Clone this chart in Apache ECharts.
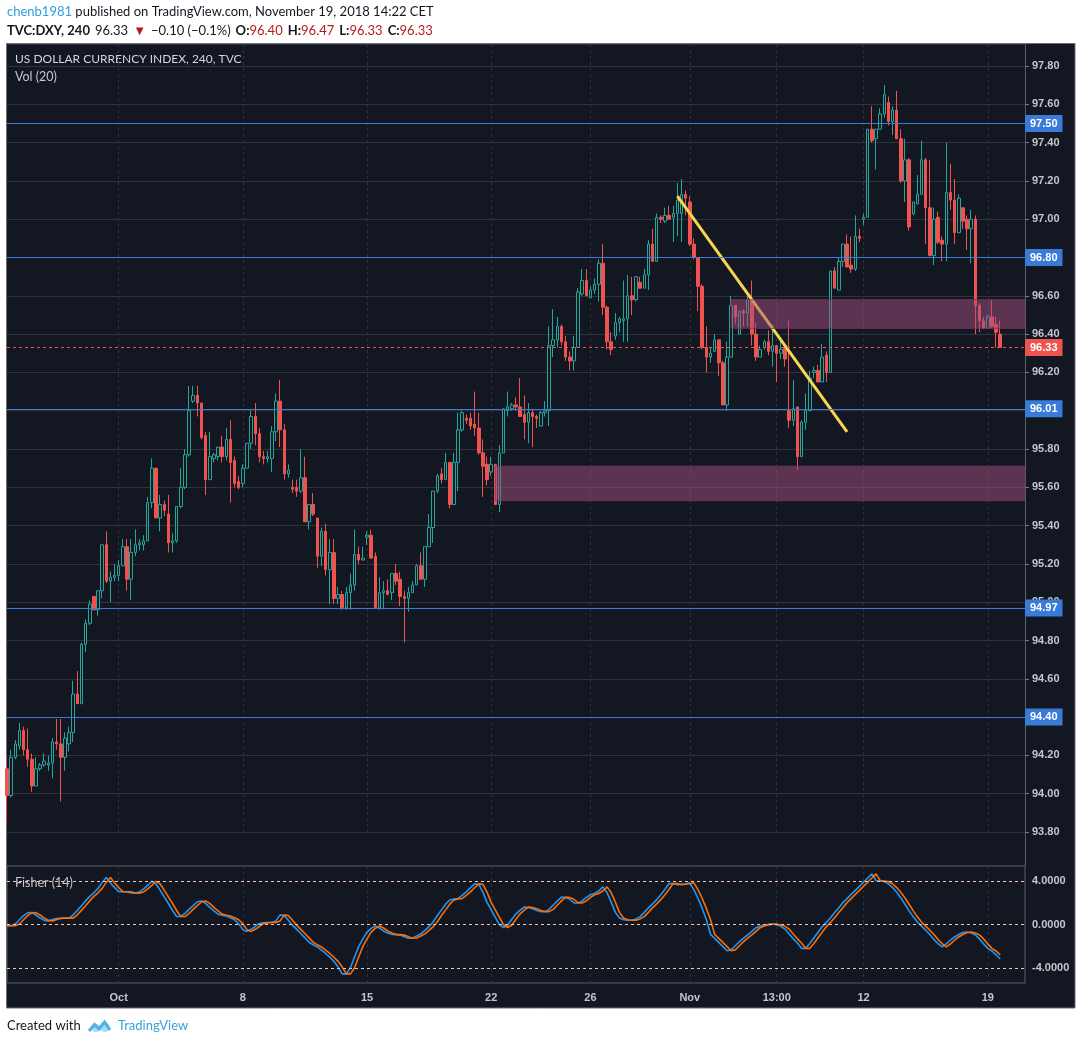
<!DOCTYPE html>
<html><head><meta charset="utf-8">
<script src="https://cdn.jsdelivr.net/npm/echarts@6/dist/echarts.min.js"></script>
<style>html,body{margin:0;padding:0;background:#fff}#c{width:1081px;height:1045px}</style>
</head><body><div id="c"></div>
<script>
// ---- data (4h candles, TVC:DXY) ----
const opens = [
94.13,93.99,94.19,94.25,94.33,94.23,94.18,94.04,94.13,94.15,
94.15,94.16,94.27,94.26,94.19,94.26,94.32,94.52,94.47,94.78,
94.89,95.03,94.96,95.06,95.30,95.11,95.13,95.14,95.19,95.29,
95.12,95.26,95.30,95.30,95.32,95.52,95.70,95.44,95.51,95.46,
95.31,95.32,95.50,95.60,95.77,96.05,96.08,96.04,95.87,95.64,
95.75,95.76,95.81,95.76,95.85,95.74,95.63,95.62,95.70,95.83,
95.97,95.88,95.76,95.75,95.75,95.89,96.05,95.90,95.67,95.60,
95.60,95.58,95.65,95.42,95.51,95.44,95.24,95.37,95.17,95.26,
95.02,95.04,94.97,95.05,95.09,95.25,95.22,95.34,95.35,95.24,
94.97,95.05,95.06,95.05,95.15,95.12,95.03,95.02,95.05,95.09,
95.19,95.12,95.29,95.39,95.58,95.67,95.64,95.73,95.51,95.73,
95.90,95.96,95.96,95.93,95.91,95.78,95.72,95.68,95.72,95.51,
95.78,96.00,96.01,96.03,96.02,95.98,95.94,95.99,95.97,95.92,
95.99,96.00,96.34,96.37,96.44,96.36,96.28,96.26,96.33,96.61,
96.68,96.59,96.63,96.66,96.77,96.54,96.36,96.39,96.46,96.47,
96.48,96.60,96.58,96.67,96.64,96.71,96.87,96.78,97.01,96.99,
97.02,97.01,97.03,97.03,97.13,97.09,96.87,96.80,96.65,96.33,
96.28,96.31,96.37,96.25,96.03,96.28,96.55,96.40,96.52,96.51,
96.58,96.40,96.28,96.33,96.36,96.31,96.34,96.30,96.33,96.00,
95.95,96.02,95.76,95.94,96.00,96.20,96.21,96.15,96.29,96.20,
96.73,96.63,96.78,96.87,96.76,96.74,96.91,97.00,97.01,97.47,
97.42,97.47,97.55,97.61,97.51,97.57,97.42,97.20,97.31,97.03,
97.08,97.13,97.31,97.06,96.81,97.01,96.89,96.87,97.14,97.10,
96.93,97.06,97.00,96.95,97.00,96.55,96.47,96.43,96.49,96.45,
96.40];
const highs = [
94.20,94.23,94.28,94.37,94.35,94.34,94.21,94.19,94.16,94.21,
94.20,94.29,94.39,94.39,94.32,94.35,94.59,94.64,94.79,94.91,
95.01,95.03,95.06,95.30,95.37,95.16,95.20,95.22,95.33,95.33,
95.33,95.38,95.33,95.35,95.55,95.75,95.70,95.56,95.53,95.56,
95.36,95.50,95.70,95.80,96.13,96.13,96.13,96.04,95.89,95.89,
95.78,95.81,95.87,95.91,95.95,95.76,95.66,95.72,95.83,96.00,
96.04,95.91,95.79,95.79,95.92,96.09,96.16,95.93,95.72,95.64,
95.64,95.80,95.76,95.51,95.57,95.44,95.39,95.41,95.33,95.33,
95.08,95.06,95.08,95.15,95.38,95.29,95.29,95.37,95.38,95.26,
95.13,95.11,95.12,95.15,95.20,95.16,95.06,95.08,95.11,95.20,
95.26,95.29,95.46,95.58,95.67,95.70,95.78,95.73,95.78,95.99,
96.00,95.98,95.99,96.10,95.99,95.85,95.76,95.76,95.72,95.82,
96.01,96.10,96.04,96.07,96.17,96.08,96.04,96.01,95.98,96.00,
96.05,96.44,96.53,96.49,96.45,96.39,96.31,96.39,96.64,96.74,
96.74,96.65,96.69,96.79,96.87,96.55,96.41,96.51,96.49,96.68,
96.71,96.70,96.70,96.70,96.74,96.89,96.95,97.03,97.02,97.06,
97.07,97.07,97.19,97.21,97.15,97.12,96.90,96.80,96.66,96.44,
96.33,96.40,96.37,96.26,96.36,96.60,96.55,96.52,96.53,96.60,
96.68,96.46,96.34,96.37,96.42,96.45,96.34,96.37,96.34,96.47,
96.16,96.02,95.95,96.09,96.21,96.23,96.24,96.35,96.31,96.73,
96.75,96.80,96.87,96.92,96.91,97.02,96.95,97.03,97.47,97.59,
97.47,97.58,97.70,97.64,97.59,97.67,97.47,97.42,97.32,97.09,
97.23,97.41,97.32,97.31,97.06,97.04,96.91,97.40,97.29,97.21,
97.13,97.06,97.02,97.05,97.02,96.56,96.49,96.50,96.58,96.49,
96.47];
const lows = [
93.85,93.98,94.18,94.23,94.20,94.14,94.01,94.04,94.12,94.14,
94.12,94.08,94.23,93.96,94.12,94.22,94.27,94.47,94.47,94.74,
94.88,94.96,94.93,95.02,95.10,95.00,95.11,95.11,95.19,95.06,
95.01,95.24,95.27,95.27,95.32,95.49,95.44,95.37,95.45,95.26,
95.26,95.31,95.49,95.59,95.76,96.04,95.97,95.85,95.56,95.64,
95.73,95.74,95.73,95.74,95.52,95.60,95.59,95.60,95.70,95.80,
95.82,95.73,95.72,95.73,95.68,95.84,95.81,95.64,95.65,95.57,
95.55,95.57,95.42,95.38,95.45,95.18,95.19,95.14,94.99,94.99,
94.99,94.96,94.96,94.96,95.06,95.20,95.22,95.30,95.23,94.97,
94.96,94.97,95.04,95.01,95.09,94.98,94.79,94.95,95.05,95.09,
95.12,95.08,95.29,95.31,95.57,95.62,95.64,95.49,95.51,95.58,
95.89,95.93,95.90,95.87,95.77,95.55,95.61,95.66,95.51,95.47,
95.78,95.97,96.00,96.00,95.97,95.85,95.83,95.81,95.91,95.92,
95.97,95.92,96.28,96.33,96.34,96.26,96.21,96.21,96.33,96.60,
96.60,96.59,96.61,96.57,96.50,96.32,96.29,96.37,96.41,96.36,
96.36,96.50,96.57,96.64,96.64,96.63,96.78,96.78,96.98,96.98,
97.00,96.88,96.91,96.88,97.02,96.86,96.79,96.52,96.32,96.20,
96.25,96.31,96.18,96.03,96.00,96.28,96.45,96.40,96.44,96.44,
96.34,96.26,96.28,96.32,96.29,96.23,96.15,96.27,96.23,95.91,
95.92,95.69,95.76,95.90,96.00,96.17,96.15,96.15,96.15,96.20,
96.64,96.63,96.75,96.75,96.72,96.73,96.88,96.97,97.01,97.40,
97.26,97.47,97.53,97.49,97.44,97.42,97.19,97.09,96.94,97.02,
97.08,97.13,96.87,96.81,96.76,96.87,96.78,96.78,97.05,96.87,
96.93,96.95,96.84,96.77,96.40,96.41,96.43,96.43,96.43,96.33,
96.33];
const closes = [
93.99,94.19,94.26,94.33,94.23,94.18,94.04,94.13,94.15,94.17,
94.16,94.27,94.26,94.19,94.29,94.32,94.52,94.47,94.78,94.89,
94.99,94.96,95.06,95.30,95.11,95.13,95.14,95.19,95.29,95.12,
95.26,95.30,95.31,95.32,95.52,95.70,95.44,95.51,95.48,95.31,
95.32,95.50,95.60,95.77,96.00,96.08,96.04,95.86,95.64,95.76,
95.77,95.81,95.76,95.85,95.73,95.62,95.60,95.70,95.83,95.97,
95.88,95.76,95.75,95.76,95.89,96.05,95.90,95.67,95.69,95.59,
95.58,95.65,95.42,95.51,95.46,95.24,95.37,95.17,95.26,95.02,
95.04,94.97,95.05,95.09,95.25,95.22,95.23,95.35,95.23,94.97,
95.05,95.06,95.04,95.15,95.11,95.03,95.02,95.05,95.09,95.19,
95.12,95.29,95.39,95.58,95.66,95.64,95.73,95.51,95.73,95.90,
95.99,95.95,95.92,95.91,95.78,95.71,95.64,95.72,95.51,95.78,
96.01,96.02,96.03,96.02,95.97,95.94,95.99,95.97,95.96,95.99,
96.00,96.34,96.37,96.44,96.36,96.28,96.26,96.33,96.62,96.68,
96.60,96.63,96.66,96.77,96.54,96.36,96.32,96.46,96.48,96.48,
96.60,96.58,96.70,96.64,96.71,96.87,96.78,97.01,97.00,97.02,
97.00,97.03,97.10,97.13,97.11,96.87,96.80,96.65,96.33,96.28,
96.30,96.37,96.25,96.03,96.28,96.55,96.49,96.52,96.51,96.58,
96.40,96.28,96.32,96.36,96.31,96.34,96.30,96.32,96.27,95.95,
96.01,95.76,95.94,96.00,96.17,96.21,96.15,96.28,96.20,96.73,
96.64,96.78,96.87,96.75,96.74,96.91,96.90,97.01,97.47,97.41,
97.47,97.55,97.65,97.51,97.57,97.42,97.20,97.31,96.96,97.09,
97.13,97.31,97.06,96.81,97.00,96.88,96.87,97.14,97.10,96.93,
97.11,96.99,96.95,97.00,96.55,96.47,96.43,96.49,96.44,96.41,
96.33];
const fisher = [
-0.12,-0.12,0.05,0.43,0.81,1.07,1.09,0.87,0.59,0.38,
0.33,0.46,0.55,0.58,0.58,0.58,0.89,1.29,1.71,2.16,
2.57,2.90,3.30,3.85,4.29,3.80,3.37,3.00,3.00,2.99,
2.88,2.87,2.98,3.25,3.57,3.95,3.71,3.14,2.52,1.92,
1.28,0.73,0.73,1.02,1.38,1.73,2.08,2.15,1.93,1.56,
1.25,0.95,0.85,0.77,0.62,0.43,0.06,-0.47,-0.63,-0.44,
-0.18,0.09,0.15,0.18,0.18,0.33,0.88,0.81,0.38,-0.06,
-0.44,-0.82,-1.22,-1.62,-1.86,-2.05,-2.34,-2.65,-2.99,-3.37,
-3.88,-4.52,-4.52,-3.96,-2.95,-2.00,-1.32,-0.69,-0.35,-0.14,
-0.32,-0.59,-0.78,-0.90,-0.93,-0.97,-1.11,-1.26,-1.24,-1.05,
-0.85,-0.54,-0.20,0.25,0.82,1.34,1.86,2.24,2.34,2.38,
2.66,2.99,3.36,3.72,3.67,2.96,2.02,1.34,0.66,-0.03,
-0.27,-0.05,0.48,0.98,1.32,1.60,1.56,1.45,1.28,1.18,
1.18,1.38,1.78,2.16,2.50,2.46,2.31,1.97,1.97,2.16,
2.48,2.72,2.84,3.06,3.44,2.92,2.05,1.11,0.60,0.44,
0.39,0.39,0.51,0.72,1.11,1.52,1.89,2.27,2.73,3.22,
3.75,3.74,3.63,3.68,3.73,3.81,3.17,2.38,1.47,0.45,
-0.89,-1.27,-1.64,-2.02,-2.40,-2.32,-1.94,-1.57,-1.25,-0.95,
-0.62,-0.29,-0.14,-0.04,0.03,0.03,-0.02,-0.17,-0.42,-0.87,
-1.31,-1.69,-2.18,-2.18,-1.74,-1.21,-0.70,-0.19,0.19,0.62,
1.09,1.54,2.00,2.37,2.75,3.12,3.50,3.88,4.25,4.63,
4.02,3.97,3.93,3.73,3.38,2.95,2.42,1.85,1.25,0.70,
0.23,-0.15,-0.52,-0.91,-1.38,-1.76,-2.04,-1.78,-1.42,-1.14,
-0.92,-0.73,-0.68,-0.77,-0.95,-1.32,-1.77,-2.18,-2.42,-2.77,
-3.15];
const trigger = [
-0.12,-0.12,-0.12,0.05,0.43,0.81,1.07,1.09,0.87,0.59,
0.38,0.33,0.46,0.55,0.58,0.58,0.58,0.89,1.29,1.71,
2.16,2.57,2.90,3.30,3.85,4.29,3.80,3.37,3.00,3.00,
2.99,2.88,2.87,2.98,3.25,3.57,3.95,3.71,3.14,2.52,
1.92,1.28,0.73,0.73,1.02,1.38,1.73,2.08,2.15,1.93,
1.56,1.25,0.95,0.85,0.77,0.62,0.43,0.06,-0.47,-0.63,
-0.44,-0.18,0.09,0.15,0.18,0.18,0.33,0.88,0.81,0.38,
-0.06,-0.44,-0.82,-1.22,-1.62,-1.86,-2.05,-2.34,-2.65,-2.99,
-3.37,-3.88,-4.52,-4.52,-3.96,-2.95,-2.00,-1.32,-0.69,-0.35,
-0.14,-0.32,-0.59,-0.78,-0.90,-0.93,-0.97,-1.11,-1.26,-1.24,
-1.05,-0.85,-0.54,-0.20,0.25,0.82,1.34,1.86,2.24,2.34,
2.38,2.66,2.99,3.36,3.72,3.67,2.96,2.02,1.34,0.66,
-0.03,-0.27,-0.05,0.48,0.98,1.32,1.60,1.56,1.45,1.28,
1.18,1.18,1.38,1.78,2.16,2.50,2.46,2.31,1.97,1.97,
2.16,2.48,2.72,2.84,3.06,3.44,2.92,2.05,1.11,0.60,
0.44,0.39,0.39,0.51,0.72,1.11,1.52,1.89,2.27,2.73,
3.22,3.75,3.74,3.63,3.68,3.73,3.81,3.17,2.38,1.47,
0.45,-0.89,-1.27,-1.64,-2.02,-2.40,-2.32,-1.94,-1.57,-1.25,
-0.95,-0.62,-0.29,-0.14,-0.04,0.03,0.03,-0.02,-0.17,-0.42,
-0.87,-1.31,-1.69,-2.18,-2.18,-1.74,-1.21,-0.70,-0.19,0.19,
0.62,1.09,1.54,2.00,2.37,2.75,3.12,3.50,3.88,4.25,
4.63,4.02,3.97,3.93,3.73,3.38,2.95,2.42,1.85,1.25,
0.70,0.23,-0.15,-0.52,-0.91,-1.38,-1.76,-2.04,-1.78,-1.42,
-1.14,-0.92,-0.73,-0.68,-0.77,-0.95,-1.32,-1.77,-2.18,-2.42,
-2.77];
const slotCount = 247;                       // candles + empty right margin
const labelIdx  = [27, 57, 87, 117, 141, 165, 186, 207, 237];
const labelText = ['Oct', '8', '15', '22', '26', 'Nov', '13:00', '12', '19'];
const levels = [97.50, 96.80, 96.01, 94.97, 94.40];
const lastPrice = 96.33;
const countdown = '02:37:21';
const zoneStart = [175, 118];
const zoneTop = [96.58, 95.71];
const zoneBottom = [96.43, 95.53];
const trendIdx = [162, 203];
const trendVal = [97.12, 95.89];
const fisherLevels = [4, 0, -4];
const headerLine1 = ['chenb1981', ' published on TradingView.com, November 19, 2018 14:22 CET'];
const paneTitles = ['US DOLLAR CURRENCY INDEX, 240, TVC', 'Vol (20)', 'Fisher (14)'];

// ---- build ----
const cats = Array.from({length: slotCount}, (_, i) => String(i));
const candleData = opens.map((o, i) => [o, closes[i], lows[i], highs[i]]);
const isLabel = (i) => labelIdx.indexOf(i) >= 0;
const F = 'Lato,"Liberation Sans",Arial,sans-serif';
const AF = '"Liberation Sans",Arial,sans-serif';
const BG = '#131722', GRIDC = '#2f333e', BLUE = '#3a7bd8', RED = '#ef5350', AXT = '#c3c6cd';
const last = opens.length - 1;

const splitV = {show: true, interval: (i) => isLabel(i), lineStyle: {color: '#2c303b', type: [3, 3], width: 1}};

const chart = echarts.init(document.getElementById('c'), null, {renderer: 'canvas'});
chart.setOption({
  animation: false,
  backgroundColor: '#ffffff',
  title: [
    {left: 7, top: 5, padding: 0, text: '{u|' + headerLine1[0] + '}{n|' + headerLine1[1] + '}',
     textStyle: {fontWeight: 'normal', rich: {
       u: {color: '#2e9fdc', fontSize: 13, fontWeight: 'normal', fontFamily: F},
       n: {color: '#131722', fontSize: 13, fontWeight: 'normal', fontFamily: F}}}},
    {left: 7, top: 22, padding: 0,
     text: '{b|TVC:DXY, 240} {n|' + closes[last].toFixed(2) + '} {r|\u25BC} {n|\u22120.10 (\u22120.1%)} {b|O:}{r|' + opens[last].toFixed(2) +
           '} {b|H:}{r|' + highs[last].toFixed(2) + '} {b|L:}{r|' + lows[last].toFixed(2) + '} {b|C:}{r|' + closes[last].toFixed(2) + '}',
     textStyle: {fontWeight: 'normal', rich: {
       b: {color: '#131722', fontSize: 13, fontWeight: 'bold', fontFamily: F},
       n: {color: '#131722', fontSize: 13, fontWeight: 'normal', fontFamily: F},
       r: {color: '#b71c1c', fontSize: 13, fontWeight: 'normal', fontFamily: F}}}}
  ],
  graphic: [
    {type: 'rect', z: -100, silent: true, shape: {x: 6.5, y: 43.5, width: 1068.5, height: 964.5},
     style: {fill: BG, stroke: '#6b6e78', lineWidth: 1}},
    {type: 'line', silent: true, shape: {x1: 1025.5, y1: 44, x2: 1025.5, y2: 866}, style: {stroke: '#5d606b', lineWidth: 1}},
    {type: 'text', silent: true, left: 15, top: 53, style: {text: paneTitles[0], fill: '#d1d4dc', font: '12px ' + F}},
    {type: 'text', silent: true, left: 15, top: 70, style: {text: paneTitles[1], fill: '#c3c6cd', font: '12.5px ' + F}},
    {type: 'text', silent: true, left: 15, top: 876, style: {text: paneTitles[2], fill: '#c3c6cd', font: '12.5px ' + F}},
    {type: 'text', silent: true, left: 7, top: 1019, style: {text: 'Created with', fill: '#131722', font: '13px ' + F}},
    {type: 'circle', silent: true, shape: {cx: 104.5, cy: 1027, r: 5}, style: {fill: '#a9daf3'}},
    {type: 'circle', silent: true, shape: {cx: 96, cy: 1028, r: 4}, style: {fill: '#a9daf3'}},
    {type: 'polyline', silent: true, shape: {points: [[89, 1031], [94.5, 1024.5], [99, 1029], [104.5, 1022], [110, 1030]]},
     style: {stroke: '#4fb2e6', lineWidth: 3, fill: null}},
    {type: 'text', silent: true, left: 118, top: 1019, style: {text: 'TradingView', fill: '#39a1db', font: '13px ' + F}}
  ],
  grid: [
    {left: 7, top: 44, width: 1018, height: 788, show: false},
    {left: 7, top: 866, width: 1018, height: 117, show: true, backgroundColor: 'transparent', borderColor: '#5d606b', borderWidth: 1}
  ],
  xAxis: [
    {type: 'category', gridIndex: 0, data: cats, boundaryGap: false,
     axisLine: {show: false}, axisTick: {show: false}, axisLabel: {show: false}, splitLine: splitV},
    {type: 'category', gridIndex: 1, data: cats, boundaryGap: false,
     axisLine: {show: false}, axisTick: {show: false}, splitLine: splitV,
     axisLabel: {show: true, interval: (i) => isLabel(i), margin: 9,
       formatter: (v, i) => { const k = labelIdx.indexOf(Number(v)); return k >= 0 ? labelText[k] : ''; },
       color: AXT, fontSize: 11, fontWeight: 'bold', fontFamily: AF}}
  ],
  yAxis: [
    {type: 'value', gridIndex: 0, position: 'right', min: 93.8, max: 97.915, interval: 0.2,
     axisLine: {show: false},
     axisTick: {show: true, length: 4, lineStyle: {color: '#787b86'}},
     axisLabel: {margin: 7, showMaxLabel: false, color: AXT, fontSize: 11, fontWeight: 'bold', fontFamily: AF,
       formatter: (v) => v.toFixed(2)},
     splitLine: {show: true, lineStyle: {color: GRIDC, width: 1}}},
    {type: 'value', gridIndex: 1, position: 'right', min: -5.35, max: 5.35,
     axisLine: {show: false}, axisTick: {show: false}, axisLabel: {show: false}, splitLine: {show: false}}
  ],
  series: [
    {type: 'candlestick', xAxisIndex: 0, yAxisIndex: 0, data: candleData, barWidth: 3,
     itemStyle: {color: BG, color0: RED, borderColor: '#26a69a', borderColor0: RED, borderWidth: 1},
     markArea: {silent: true, z: 10,
       itemStyle: {color: 'rgba(165,79,126,0.5)', borderColor: 'rgba(120,50,95,0.8)', borderWidth: 1},
       data: zoneStart.map((s, k) => [{xAxis: s, yAxis: zoneTop[k]}, {xAxis: slotCount - 1, yAxis: zoneBottom[k]}])},
     markLine: {silent: true, symbol: ['none', 'none'], animation: false,
       data: levels.map(v => ({yAxis: v, lineStyle: {color: BLUE, type: 'solid', width: 1},
           label: {position: 'end', distance: 0, formatter: v.toFixed(2), backgroundColor: BLUE, color: '#fff',
                   fontWeight: 'bold', fontSize: 11, fontFamily: AF, padding: [2, 5], lineHeight: 13}}))
         .concat([
           {yAxis: lastPrice, lineStyle: {color: RED, type: [3, 3], width: 1},
            label: {position: 'end', distance: 0, formatter: lastPrice.toFixed(2), backgroundColor: RED, color: '#fff',
                    fontWeight: 'bold', fontSize: 11, fontFamily: AF, padding: [2, 5], lineHeight: 13}},
           {yAxis: lastPrice, lineStyle: {opacity: 0},
            label: {position: 'end', distance: 0, verticalAlign: 'top', formatter: '{s| }\n{t|' + countdown + '}',
                    rich: {s: {lineHeight: 10, fontSize: 8},
                           t: {backgroundColor: RED, color: '#fff', fontWeight: 'bold', fontSize: 11, fontFamily: AF, padding: [2, 3], lineHeight: 13}}}}
         ])}
    },
    {type: 'line', xAxisIndex: 0, yAxisIndex: 0, z: 3, symbol: 'none', silent: true,
     data: trendIdx.map((x, k) => [x, trendVal[k]]),
     lineStyle: {color: '#f7d54e', width: 3}},
    {type: 'line', name: 'Fisher', xAxisIndex: 1, yAxisIndex: 1, showSymbol: false, symbol: 'none', silent: true,
     data: fisher, lineStyle: {color: '#2196f3', width: 1.6},
     markLine: {silent: true, symbol: ['none', 'none'], animation: false,
       lineStyle: {color: '#f5c7b5', type: [3, 3], width: 1},
       label: {position: 'end', distance: 7, color: AXT, fontSize: 11, fontWeight: 'bold', fontFamily: AF,
               formatter: (p) => Number(p.value).toFixed(4)},
       data: fisherLevels.map(v => ({yAxis: v}))}},
    {type: 'line', name: 'Trigger', xAxisIndex: 1, yAxisIndex: 1, showSymbol: false, symbol: 'none', silent: true,
     data: trigger, lineStyle: {color: '#ff6d00', width: 1.6}}
  ]
});
</script></body></html>
